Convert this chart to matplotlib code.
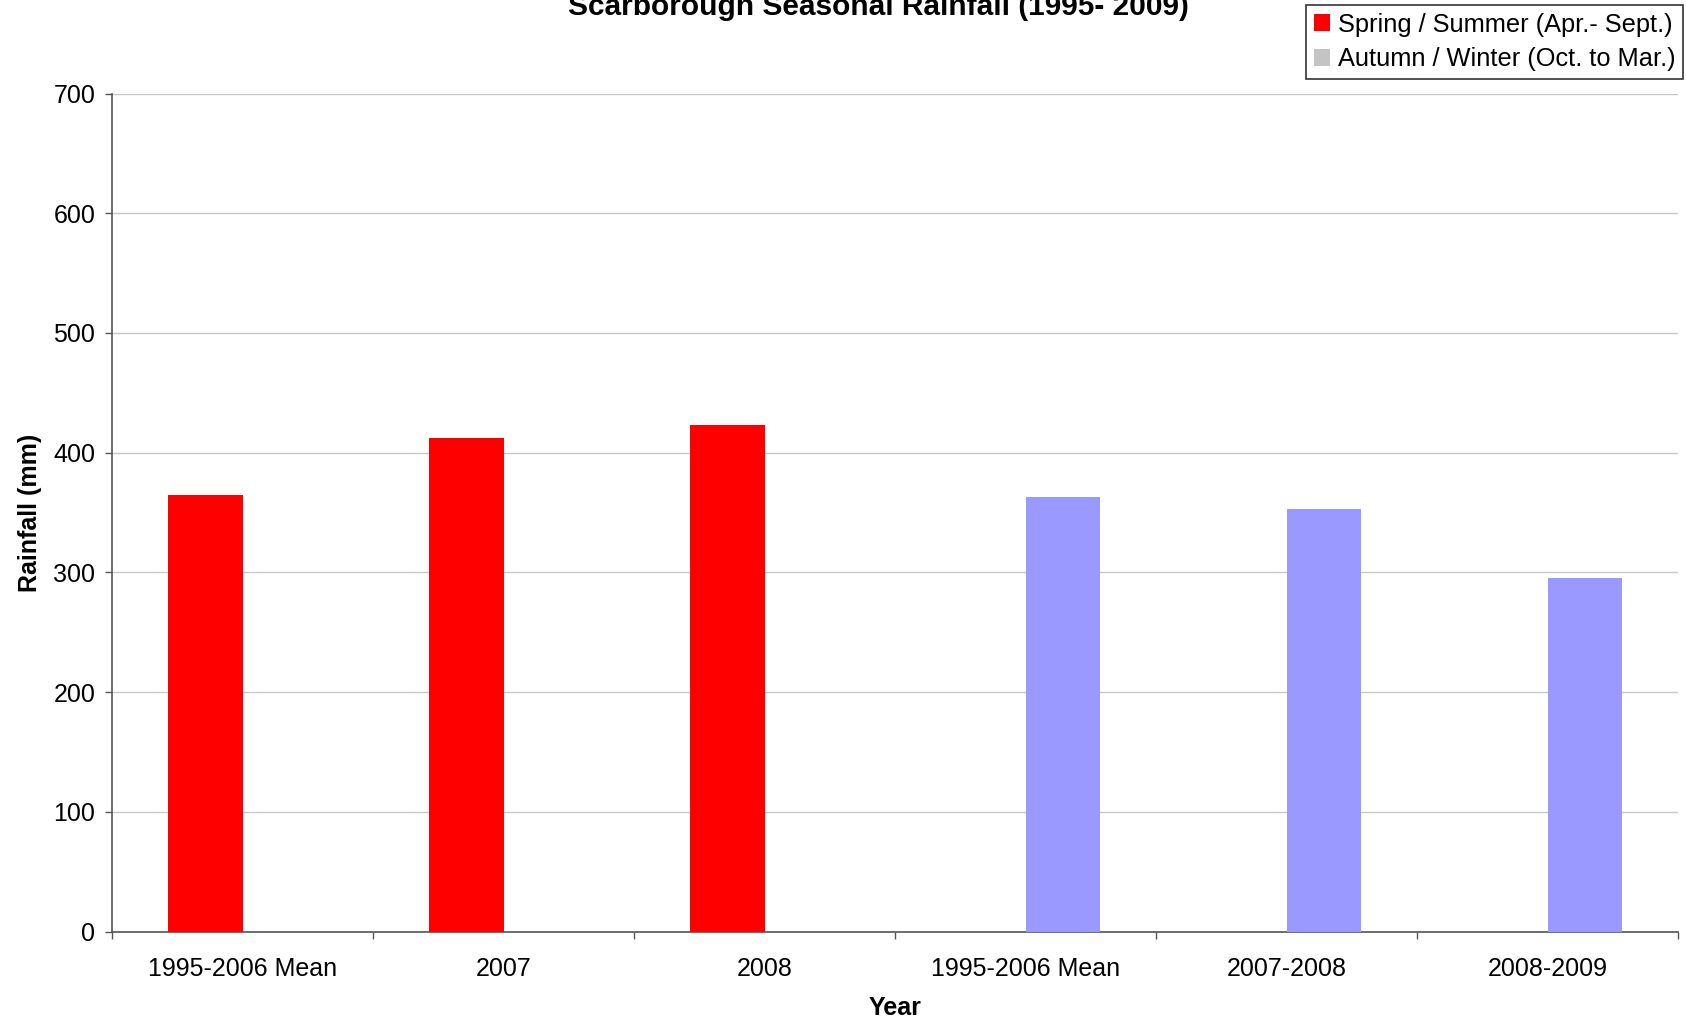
"""Scarborough seasonal rainfall bar chart, spring/summer against autumn/winter."""
import matplotlib

matplotlib.use("Agg")
import matplotlib.pyplot as plt
import numpy as np
from matplotlib.patches import Patch

categories = [
    "1995-2006 Mean",
    "2007",
    "2008",
    "1995-2006 Mean",
    "2007-2008",
    "2008-2009",
]
spring_summer = [365, 412, 423, 0, 0, 0]
autumn_winter = [0, 0, 0, 363, 353, 295]
series_names = ["Spring / Summer (Apr.- Sept.)", "Autumn / Winter (Oct. to Mar.)"]
y_ticks = [0, 100, 200, 300, 400, 500, 600, 700]


def plot():
    plt.rcParams["font.family"] = ["Liberation Sans", "DejaVu Sans"]

    fig = plt.figure(figsize=(16.86, 10.25), dpi=100)
    fig.patch.set_facecolor("white")
    ax = fig.add_axes([112 / 1686, 1 - 931.5 / 1025, 1566 / 1686, 838 / 1025])

    # Excel-style clustered bars: gap width 150% gives bars 1/3.5 of a slot.
    x = np.arange(len(categories))
    width = 1 / 3.5
    ax.bar(x - width / 2, spring_summer, width, color="#ff0000", zorder=3)
    ax.bar(x + width / 2, autumn_winter, width, color="#9999ff", zorder=3)

    ax.set_xlim(-0.5, len(categories) - 0.5)
    ax.set_ylim(0, 700)
    ax.set_yticks(y_ticks)
    ax.tick_params(axis="y", labelsize=18, length=5, width=1, color="#555555", pad=7)
    ax.yaxis.grid(True, color="#c8c8c8", linewidth=1, zorder=0)

    # Category labels sit in the middle, tick marks on the slot boundaries.
    ax.set_xticks(x)
    ax.set_xticklabels(categories)
    ax.set_xticks(np.arange(len(categories) + 1) - 0.5, minor=True)
    ax.tick_params(axis="x", which="major", length=0, labelsize=18, pad=18)
    ax.tick_params(axis="x", which="minor", length=5, width=1, color="#555555")

    for side in ["top", "right"]:
        ax.spines[side].set_visible(False)
    for side in ["left", "bottom"]:
        ax.spines[side].set_color("#555555")
        ax.spines[side].set_linewidth(1.2)

    ax.set_ylabel("Rainfall (mm)", fontsize=18, fontweight="bold", labelpad=8)
    ax.set_xlabel("Year", fontsize=18, fontweight="bold", labelpad=11)

    fig.text(
        878 / 1686,
        1 - 15 / 1025,
        "Scarborough Seasonal Rainfall (1995- 2009)",
        ha="center",
        va="baseline",
        fontsize=21.5,
        fontweight="bold",
    )

    handles = [
        Patch(facecolor="#ff0000", edgecolor="none"),
        Patch(facecolor="#c4c4c4", edgecolor="none"),
    ]
    leg = fig.legend(
        handles,
        series_names,
        loc="upper right",
        bbox_to_anchor=(1683 / 1686, 1 - 5 / 1025),
        fontsize=18.3,
        fancybox=False,
        framealpha=1,
        edgecolor="#333333",
        handlelength=0.65,
        handleheight=0.65,
        handletextpad=0.3,
        borderpad=0.3,
        labelspacing=0.42,
        borderaxespad=0,
    )
    leg.get_frame().set_linewidth(1.2)

    fig.savefig("out.png", dpi=100)


if __name__ == "__main__":
    plot()
